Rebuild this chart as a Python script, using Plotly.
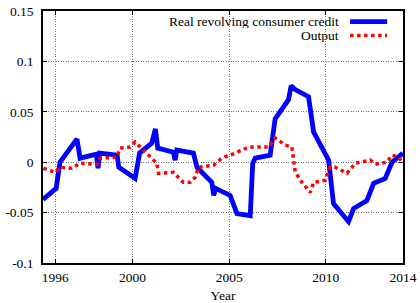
import plotly.graph_objects as go

# Real revolving consumer credit (blue)
credit_years = [1995.36, 1996.04, 1996.24, 1997.12, 1997.28, 1998.12, 1998.21, 1998.30,
                1999.20, 1999.28, 2000.13, 2000.36, 2000.99, 2001.18, 2001.30, 2002.11,
                2002.20, 2002.29, 2003.15, 2003.33, 2004.10, 2004.20, 2004.30, 2005.05,
                2005.40, 2006.09, 2006.22, 2006.35, 2007.12, 2007.38, 2008.07, 2008.21,
                2008.42, 2009.11, 2009.37, 2009.97, 2010.15, 2010.40, 2011.18, 2011.44,
                2012.13, 2012.48, 2013.08, 2013.43, 2014.0]
credit_vals = [-0.037, -0.026, 0.000, 0.023, 0.004, 0.008, -0.006, 0.009,
               0.007, -0.005, -0.016, 0.009, 0.019, 0.033, 0.014, 0.010,
               0.002, 0.012, 0.009, -0.005, -0.020, -0.033, -0.026, -0.033,
               -0.051, -0.053, -0.001, 0.004, 0.007, 0.043, 0.062, 0.076,
               0.072, 0.065, 0.030, 0.009, 0.002, -0.041, -0.059, -0.046,
               -0.038, -0.021, -0.016, 0.000, 0.009]

# Output (red dotted)
output_years = [1995.38, 1995.98, 1996.24, 1996.85, 1997.28, 1998.15, 1998.32, 1999.18,
                1999.35, 1999.87, 2000.13, 2000.39, 2000.82, 2001.25, 2001.34, 2002.11,
                2002.63, 2002.98, 2003.24, 2003.41, 2004.19, 2004.62, 2005.31, 2006.00,
                2007.04, 2007.38, 2007.90, 2008.25, 2008.42, 2008.77, 2009.20, 2009.37,
                2009.97, 2010.23, 2010.49, 2011.10, 2011.53, 2012.31, 2012.56, 2013.17,
                2013.43, 2013.77, 2014.0]
output_vals = [-0.006, -0.010, -0.005, -0.006, -0.001, -0.002, 0.004, 0.005,
               0.014, 0.015, 0.020, 0.015, 0.007, -0.001, -0.011, -0.010,
               -0.020, -0.020, -0.015, -0.005, -0.003, 0.004, 0.009, 0.015,
               0.015, 0.024, 0.017, 0.015, -0.010, -0.020, -0.030, -0.020,
               -0.018, -0.005, -0.005, -0.011, -0.001, 0.002, -0.002, 0.000,
               0.007, 0.005, -0.001]

x_tickvals = [1996, 2000, 2005, 2010, 2014]
x_ticktext = ["1996", "2000", "2005", "2010", "2014"]
y_tickvals = [0.15, 0.1, 0.05, 0, -0.05, -0.1]
y_ticktext = ["0.15", "0.1", "0.05", "0", "-0.05", "-0.1"]

series_names = ["Real revolving consumer credit", "Output"]

FONT = "Liberation Serif"

fig = go.Figure()
fig.add_trace(go.Scatter(x=credit_years, y=credit_vals, mode="lines",
                         name=series_names[0],
                         line=dict(color="#0000ff", width=4.8), showlegend=False))
fig.add_trace(go.Scatter(x=output_years, y=output_vals, mode="lines",
                         name=series_names[1],
                         line=dict(color="#ff0000", width=3.5, dash="dot"), showlegend=False))

# Gnuplot-style legend: right-aligned text followed by line sample
legend_rows = [(0.9575, "#0000ff", None, 4.8), (0.903, "#ff0000", "dot", 3.5)]
for name, (yy, col, dash, w) in zip(series_names, legend_rows):
    fig.add_annotation(xref="paper", yref="paper", x=0.825, y=yy, text=name,
                       showarrow=False, xanchor="right", yanchor="middle",
                       height=13, borderpad=0,
                       font=dict(family=FONT, size=13.5, color="#000"))
    fig.add_shape(type="line", xref="paper", yref="paper", x0=0.853, x1=0.956,
                  y0=yy, y1=yy, line=dict(color=col, width=w, dash=dash))

axis_common = dict(showline=True, linecolor="#000", linewidth=1.8, mirror="ticks",
                   ticks="inside", ticklen=4, tickwidth=1, tickcolor="#000",
                   showgrid=True, gridcolor="#777", griddash="1px,1.5px", gridwidth=1,
                   zeroline=False, automargin=False,
                   tickfont=dict(family=FONT, size=13.5, color="#000"))

fig.update_xaxes(range=[1995.36, 2014], tickvals=x_tickvals, ticktext=x_ticktext,
                 ticklabelstandoff=1,
                 title=dict(text="Year", font=dict(family=FONT, size=13.5, color="#000"),
                            standoff=6),
                 **axis_common)
fig.update_yaxes(range=[-0.1, 0.15], tickvals=y_tickvals, ticktext=y_ticktext,
                 ticklabelstandoff=5,
                 **axis_common)

fig.update_layout(width=420, height=303,
                  margin=dict(l=43, r=17, t=11, b=40),
                  paper_bgcolor="#fff", plot_bgcolor="#fff",
                  hovermode=False,
                  font=dict(family=FONT, size=13.5, color="#000"))

fig.write_html("out.html", config={"displayModeBar": False, "staticPlot": True},
               post_script="document.body.style.margin='0';document.body.style.overflow='hidden';")
